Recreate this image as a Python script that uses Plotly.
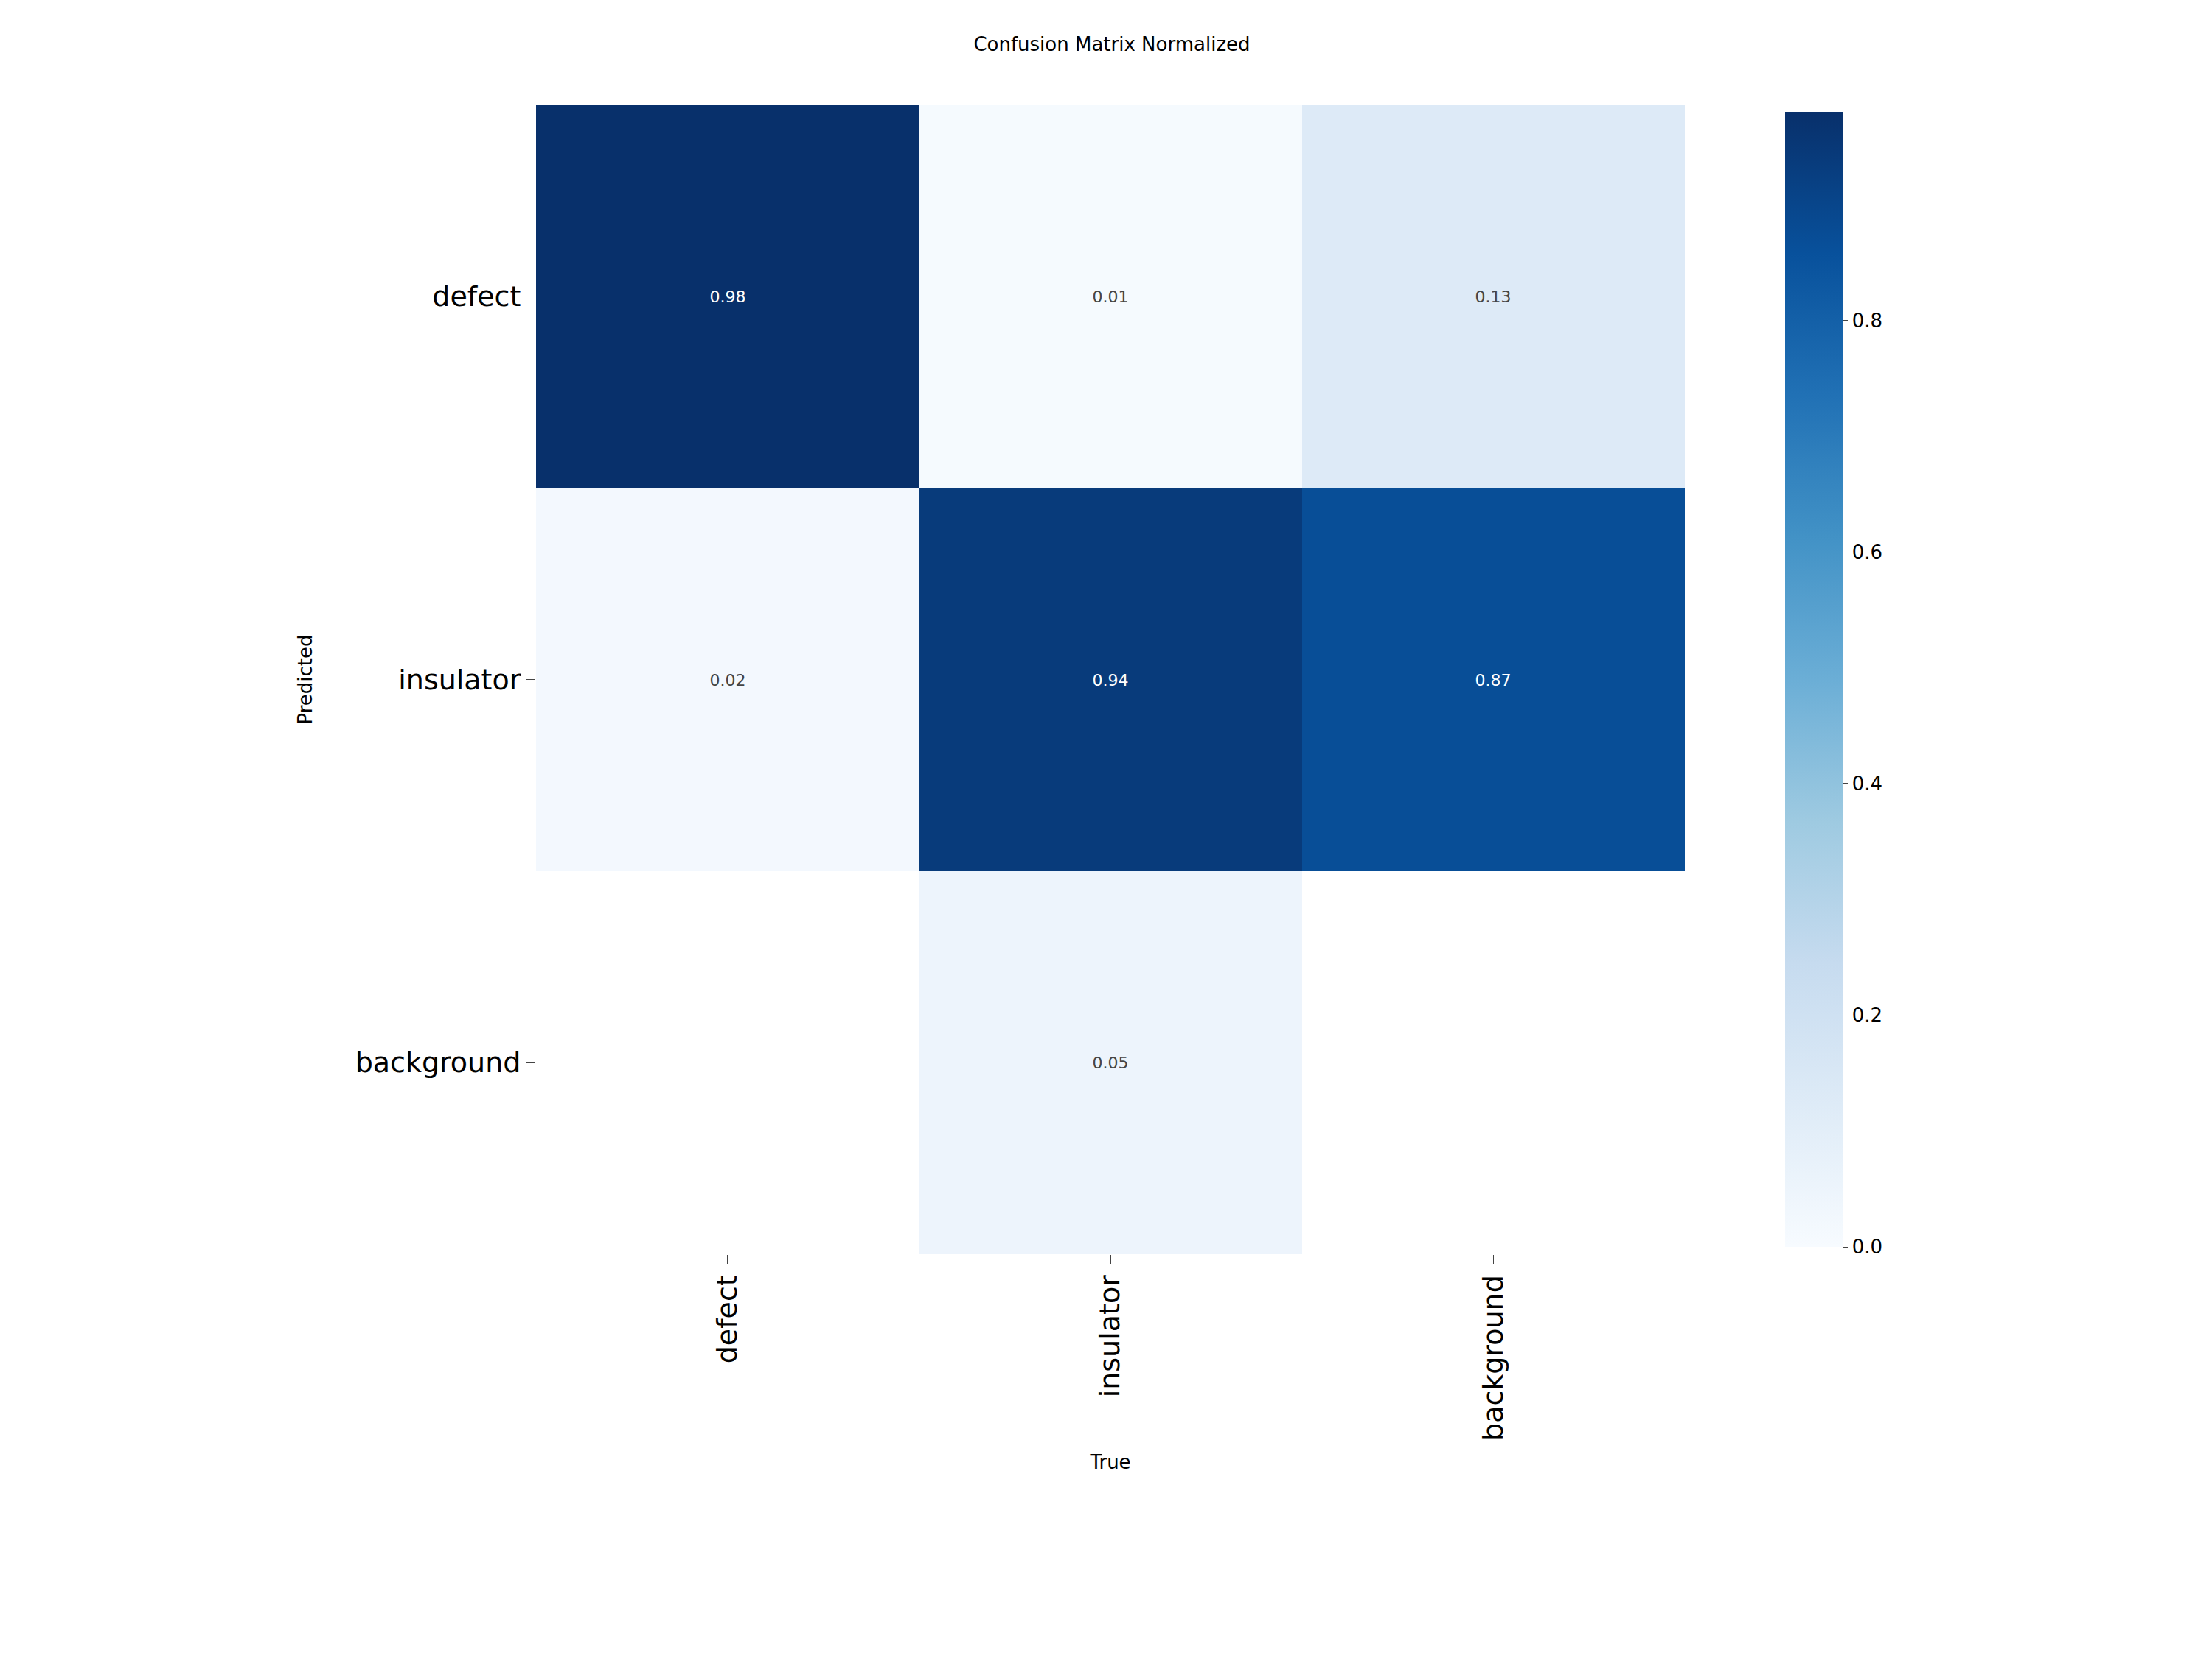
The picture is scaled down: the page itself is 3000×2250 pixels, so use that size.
import plotly.graph_objects as go

labels = ["defect", "insulator", "background"]
values = [
    [0.98, 0.01, 0.13],
    [0.02, 0.94, 0.87],
    [None, 0.05, None],
]

fig = go.Figure(go.Heatmap(
    z=values, x=labels, y=labels,
    colorscale="Blues", zmin=0, zmax=0.98,
    texttemplate="%{z:.2f}", textfont=dict(size=22, family="DejaVu Sans"),
    hoverongaps=False, xgap=0, ygap=0,
    colorbar=dict(x=1.081, xanchor="left", y=0.5, len=1, lenmode="fraction",
                  thickness=78, thicknessmode="pixels", outlinewidth=0,
                  tickvals=[0, 0.2, 0.4, 0.6, 0.8], ticktext=["0.0", "0.2", "0.4", "0.6", "0.8"],
                  ticks="outside", ticklen=8, tickfont=dict(size=26, family="DejaVu Sans")),
))
fig.update_layout(
    width=3000, height=2250,
    margin=dict(l=719, r=723, t=134, b=557),
    plot_bgcolor="white", paper_bgcolor="white",
    font=dict(family="DejaVu Sans", color="black"),
    title=dict(text="Confusion Matrix Normalized", x=0.5, xanchor="center",
               y=1 - 52 / 2250, yanchor="middle", font=dict(size=26)),
)
fig.update_xaxes(title=dict(text="True", font=dict(size=26), standoff=20),
                 tickangle=-90, tickfont=dict(size=38), ticks="outside", ticklen=12,
                 showgrid=False, zeroline=False)
fig.update_yaxes(title=dict(text="Predicted", font=dict(size=26), standoff=50),
                 autorange="reversed", tickfont=dict(size=38), ticks="outside", ticklen=12,
                 showgrid=False, zeroline=False)
fig.write_html("out.html")
